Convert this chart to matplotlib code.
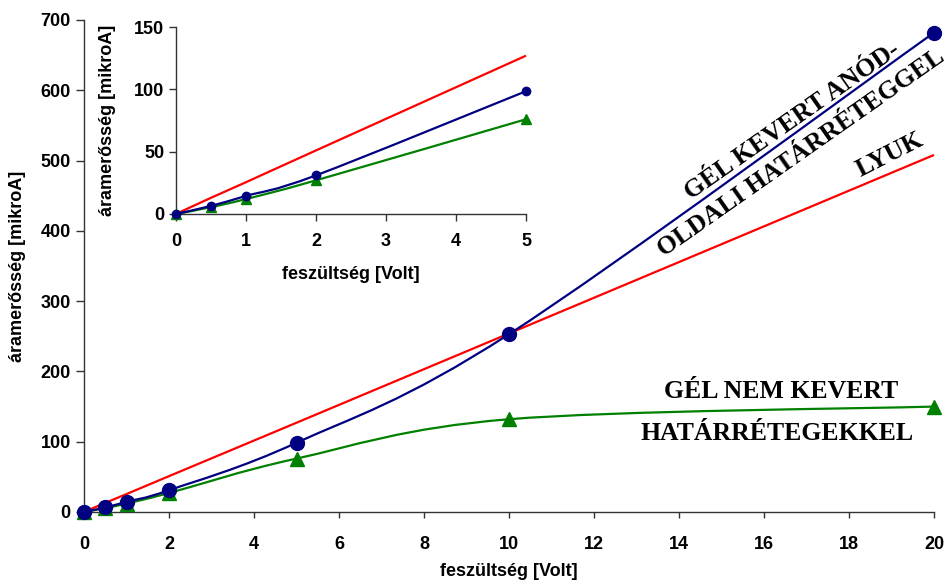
import numpy as np
import matplotlib
matplotlib.use('Agg')
import matplotlib.pyplot as plt
from matplotlib.path import Path
from matplotlib.patches import PathPatch

# measured points (feszültség [Volt] -> áramerősség [mikroA])
volt = [0, 0.5, 1, 2, 5, 10, 20]
gel_kevert = [0, 6.5, 14.5, 31, 98.5, 253, 682]
gel_nem_kevert = [0, 5.5, 12, 27, 76, 132, 150]
lyuk = [0, 13, 25.5, 51, 127, 254, 508]

x_ticks_main = list(range(0, 21, 2))
y_ticks_main = list(range(0, 701, 100))
x_ticks_inset = [0, 1, 2, 3, 4, 5]
y_ticks_inset = [0, 50, 100, 150]

BLUE = '#000080'
GREEN = '#008000'
RED = '#ff0000'
AXIS = '#333333'

plt.rcParams['font.family'] = 'Liberation Sans'


# Excel-like smoothed line: cubic bezier through every point
def smooth_path(x, y):
    pts = np.column_stack([x, y]).astype(float)
    n = len(pts)
    verts = [pts[0]]
    codes = [Path.MOVETO]
    for i in range(n - 1):
        p0 = pts[i - 1] if i > 0 else pts[i]
        p1 = pts[i]
        p2 = pts[i + 1]
        p3 = pts[i + 2] if i + 2 < n else pts[i + 1]
        verts += [p1 + (p2 - p0) / 6, p2 - (p3 - p1) / 6, p2]
        codes += [Path.CURVE4] * 3
    return Path(verts, codes)


def draw_series(ax, x, y, color, marker, msize, lw):
    ax.add_patch(PathPatch(smooth_path(x, y), fill=False, edgecolor=color,
                           lw=lw, clip_on=False, zorder=3))
    if marker:
        ax.plot(x, y, linestyle='none', marker=marker, ms=msize, color=color,
                clip_on=False, zorder=4)


def style_axes(ax, fs, ticklen):
    for side in ['top', 'right']:
        ax.spines[side].set_visible(False)
    for side in ['left', 'bottom']:
        ax.spines[side].set_color(AXIS)
        ax.spines[side].set_linewidth(1.0)
    ax.tick_params(direction='out', color=AXIS, width=1.0, length=ticklen,
                   labelsize=fs)
    for lab in ax.get_xticklabels() + ax.get_yticklabels():
        lab.set_fontweight('bold')


fig = plt.figure(figsize=(9.45, 5.8), dpi=100)

# main chart
ax = fig.add_axes([84 / 945, 1 - 512 / 580, 850 / 945, 492 / 580])
draw_series(ax, volt, lyuk, RED, None, 0, 1.6)
draw_series(ax, volt, gel_nem_kevert, GREEN, '^', 10, 1.6)
draw_series(ax, volt, gel_kevert, BLUE, 'o', 10, 1.6)
ax.set_xlim(0, 20)
ax.set_ylim(0, 700)
ax.set_xticks(x_ticks_main)
ax.set_yticks(y_ticks_main)
style_axes(ax, 13, 6)
ax.tick_params(axis='x', length=4, pad=13)
ax.set_xlabel('feszültség [Volt]', fontsize=13, fontweight='bold', va='center')
ax.xaxis.set_label_coords(0.5, -0.12)
ax.set_ylabel('áramerősség [mikroA]', fontsize=13, fontweight='bold', va='center')
ax.yaxis.set_label_coords(-0.078, 0.5)

# series labels
serif = dict(family='Liberation Serif', fontweight='bold', fontsize=18.5,
             ha='center', va='center', rotation_mode='anchor', clip_on=False)
ax.text(16.68, 556, 'GÉL KEVERT ANÓD-', rotation=35, **serif)
ax.text(16.88, 511, 'OLDALI HATÁRRÉTEGGEL', rotation=35, **serif)
ax.text(18.95, 508, 'LYUK', rotation=27, **serif)
ax.text(16.4, 171, 'GÉL NEM KEVERT', **serif)
ax.text(16.3, 112, 'HATÁRRÉTEGEKKEL', **serif)

# inset: first part of the curves
n_in = 5
ins = fig.add_axes([176 / 945, 1 - 214 / 580, 350 / 945, 187 / 580])
draw_series(ins, volt[:n_in], lyuk[:n_in], RED, None, 0, 1.6)
draw_series(ins, volt[:n_in], gel_nem_kevert[:n_in], GREEN, '^', 6.5, 1.6)
draw_series(ins, volt[:n_in], gel_kevert[:n_in], BLUE, 'o', 6, 1.6)
ins.set_xlim(0, 5)
ins.set_ylim(0, 150)
ins.set_xticks(x_ticks_inset)
ins.set_yticks(y_ticks_inset)
style_axes(ins, 13, 5)
ins.tick_params(axis='x', pad=9)
ins.set_xlabel('feszültség [Volt]', fontsize=13, fontweight='bold', va='center')
ins.xaxis.set_label_coords(0.5, -0.321)
ins.set_ylabel('áramerősség [mikroA]', fontsize=13, fontweight='bold', va='center')
ins.yaxis.set_label_coords(-0.197, 0.5)

fig.savefig('out.png', dpi=100)
